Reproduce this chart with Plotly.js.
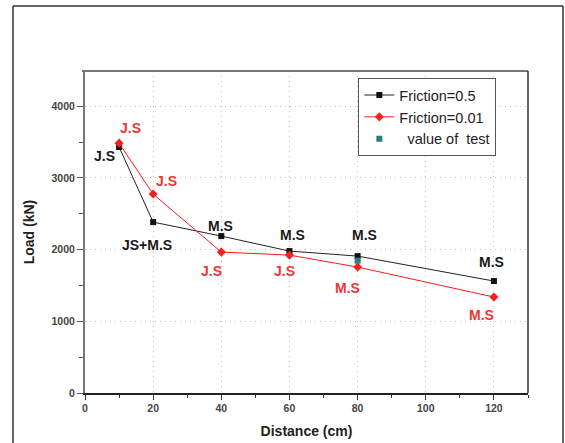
<!DOCTYPE html>
<html>
<head>
<meta charset="utf-8">
<script src="https://cdn.plot.ly/plotly-3.0.1.min.js"></script>
<style>html,body{margin:0;padding:0;background:#fff}#chart{width:565px;height:443px}</style>
</head>
<body>
<div id="chart"></div>
<script>
// Data
const distance = [10, 20, 40, 60, 80, 120];
const loadFriction05 = [3430, 2383, 2188, 1979, 1909, 1561];
const loadFriction001 = [3484, 2774, 1965, 1923, 1756, 1338];
const testDistance = [80];
const testLoad = [1845];
const labels05 = ["J.S", "JS+M.S", "M.S", "M.S", "M.S", "M.S"];
const labels001 = ["J.S", "J.S", "J.S", "J.S", "M.S", "M.S"];
const seriesNames = ["Friction=0.5", "Friction=0.01", "\u00a0 value of\u00a0 test"];
const xTitle = "Distance (cm)";
const yTitle = "Load (kN)";

// Label placement (pixel offsets from each point)
const offs05 = [[-15,-9],[-6,-23],[-1,10],[3,16],[7,21],[-2,19]];
const offs001 = [[11,15],[13,13],[-10,-19],[-5,-16],[-10,-21],[-12,-18]];

const font = "Liberation Sans, Arial, sans-serif";

const traces = [
  {x: distance, y: loadFriction05, name: seriesNames[0], type: 'scatter', mode: 'lines+markers',
   line: {color: '#222', width: 1}, marker: {symbol: 'square', size: 6, color: '#111'}},
  {x: distance, y: loadFriction001, name: seriesNames[1], type: 'scatter', mode: 'lines+markers',
   line: {color: '#ff1a1a', width: 1}, marker: {symbol: 'diamond', size: 7, color: '#f52020'}},
  {x: testDistance, y: testLoad, name: seriesNames[2], type: 'scatter', mode: 'markers',
   marker: {symbol: 'square', size: 6, color: '#2a8080'}}
];

const annotations = [];
distance.forEach((d, i) => {
  annotations.push({x: d, y: loadFriction05[i], xref: 'x', yref: 'y', text: labels05[i], showarrow: false,
    xshift: offs05[i][0], yshift: offs05[i][1], font: {family: font, size: 14, color: '#1a1a1a', weight: 'bold'}});
  annotations.push({x: d, y: loadFriction001[i], xref: 'x', yref: 'y', text: labels001[i], showarrow: false,
    xshift: offs001[i][0], yshift: offs001[i][1], font: {family: font, size: 14, color: '#f03535', weight: 'bold'}});
});

const frame = {type: 'line', xref: 'paper', yref: 'paper', line: {color: '#333', width: 1.5}};
const shapes = [
  Object.assign({}, frame, {x0: -0.1625, x1: -0.1625, y0: 1.202, y1: -0.3}),
  Object.assign({}, frame, {x0: -0.1625, x1: 1.079, y0: 1.202, y1: 1.202}),
  Object.assign({}, frame, {x0: 1.079, x1: 1.079, y0: 1.202, y1: -0.3}),
  {type: 'line', xref: 'paper', yref: 'paper', x0: -0.007, x1: 1, y0: 1, y1: 1, line: {color: '#777', width: 2}},
  {type: 'line', xref: 'paper', yref: 'paper', x0: 1, x1: 1, y0: 0, y1: 1, line: {color: '#333', width: 1.5}}
];

const layout = {
  width: 565, height: 443,
  margin: {l: 85, r: 37, t: 71, b: 50},
  paper_bgcolor: '#fff', plot_bgcolor: '#fff',
  showlegend: true,
  legend: {x: 0.617, y: 0.978, xanchor: 'left', yanchor: 'top', bgcolor: '#fff',
    bordercolor: '#555', borderwidth: 1, font: {family: font, size: 14.5, color: '#222'},
    tracegroupgap: 0, itemwidth: 30},
  xaxis: {range: [0, 130], tickvals: [0, 20, 40, 60, 80, 100, 120], ticks: 'outside', ticklen: 5,
    tickwidth: 1, tickcolor: '#333', showline: true, linecolor: '#222', linewidth: 1.5,
    showgrid: true, gridcolor: '#c4c4c4', griddash: '1px,4px', gridwidth: 1, zeroline: false,
    minor: {tickvals: [10, 30, 50, 70, 90, 110, 130], ticks: 'outside', ticklen: 3, tickcolor: '#333', showgrid: false},
    tickfont: {family: font, size: 10.5, color: '#444', weight: 'bold'},
    title: {text: xTitle, font: {family: font, size: 14, color: '#222', weight: 'bold'}, standoff: 13}},
  yaxis: {range: [0, 4490], tickvals: [0, 1000, 2000, 3000, 4000], ticks: 'outside', ticklen: 6,
    tickwidth: 1, tickcolor: '#555', showline: true, linecolor: '#777', linewidth: 2,
    showgrid: true, gridcolor: '#c4c4c4', griddash: '1px,4px', gridwidth: 1, zeroline: false,
    minor: {tickvals: [500, 1500, 2500, 3500], ticks: 'outside', ticklen: 4, tickcolor: '#555', showgrid: false},
    tickfont: {family: font, size: 10.5, color: '#444', weight: 'bold'},
    title: {text: yTitle, font: {family: font, size: 14, color: '#222', weight: 'bold'}, standoff: 14}},
  annotations: annotations,
  shapes: shapes
};

Plotly.newPlot('chart', traces, layout, {displayModeBar: false, staticPlot: true});
</script>
</body>
</html>
